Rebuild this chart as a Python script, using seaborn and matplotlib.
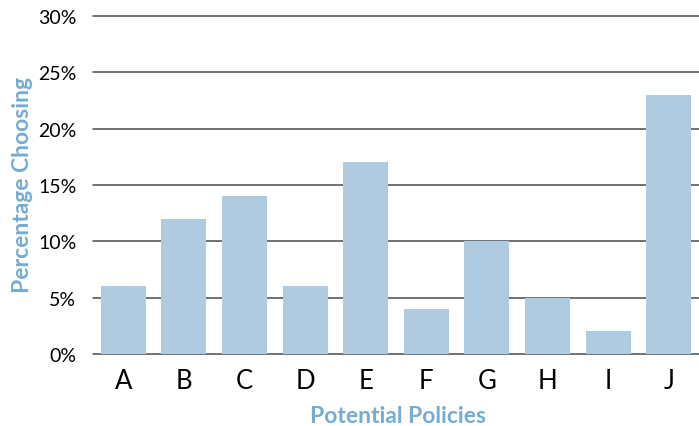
import matplotlib
matplotlib.use("Agg")
import matplotlib.pyplot as plt
import seaborn as sns
import pandas as pd
from matplotlib.ticker import FuncFormatter

policies = ["A", "B", "C", "D", "E", "F", "G", "H", "I", "J"]
pct_choosing = [6, 12, 14, 6, 17, 4, 10, 5, 2, 23]
y_ticks = [0, 5, 10, 15, 20, 25, 30]

df = pd.DataFrame({"policy": policies, "pct": pct_choosing})

sns.set_style("white")
plt.rcParams["font.family"] = ["Lato", "DejaVu Sans"]

fig = plt.figure(figsize=(6.99, 4.27), dpi=100)
ax = fig.add_axes([0.133, 0.169, 0.867, 0.791])

sns.barplot(data=df, x="policy", y="pct", color="#aecbe2", saturation=1,
            width=0.74, linewidth=0, ax=ax, zorder=3)

ax.set_ylim(0, 30)
ax.set_yticks(y_ticks)
ax.yaxis.set_major_formatter(FuncFormatter(lambda v, _: f"{int(v)}%"))
ax.set_xlim(-0.5, len(policies) - 0.5)
for t in y_ticks:
    ax.axhline(t, color="#4a4a4a", linewidth=1.1, zorder=1, clip_on=False)
for s in ax.spines.values():
    s.set_visible(False)

ax.tick_params(axis="y", labelsize=14, length=0, pad=12, colors="black")
ax.tick_params(axis="x", labelsize=18.5, length=0, pad=10, colors="black")

label_color = "#74acd2"
ax.set_xlabel("Potential Policies", fontsize=16.5, color=label_color,
              fontweight="bold", va="center")
ax.set_ylabel("Percentage Choosing", fontsize=16.5, color=label_color,
              fontweight="bold", va="center")
ax.xaxis.set_label_coords(0.503, -0.183)
ax.yaxis.set_label_coords(-0.117, 0.503)

fig.savefig("out.png", dpi=100)
